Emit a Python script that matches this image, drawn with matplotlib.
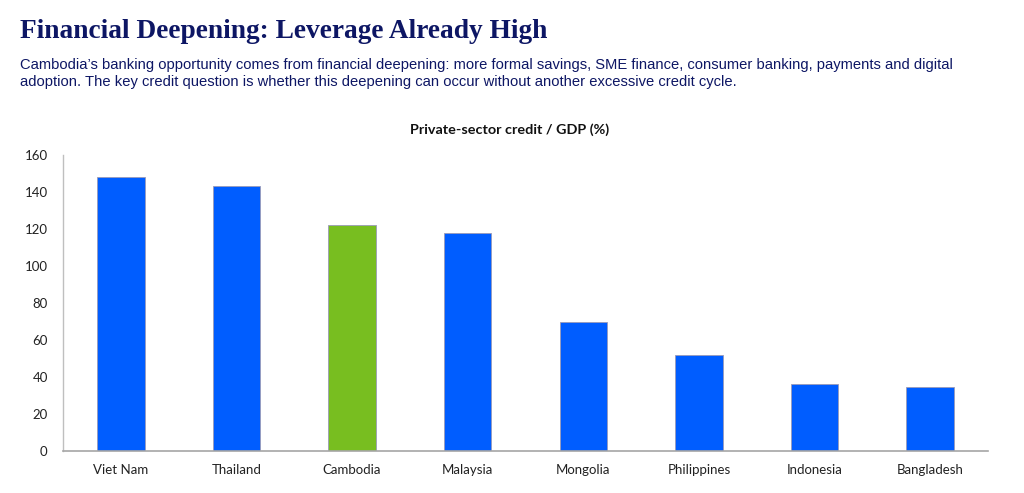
import matplotlib
matplotlib.use("Agg")
import matplotlib.pyplot as plt

countries = ["Viet Nam", "Thailand", "Cambodia", "Malaysia", "Mongolia",
             "Philippines", "Indonesia", "Bangladesh"]
credit_gdp = [148, 143, 122, 118, 70, 52, 36, 34.5]
highlight = "Cambodia"
yticks = [0, 20, 40, 60, 80, 100, 120, 140, 160]

blue = "#005DFF"
green = "#78BE20"
navy = "#0D1664"

fig = plt.figure(figsize=(10.24, 4.93), dpi=100)
ax = fig.add_axes([63/1024, 1 - 451/493, 925/1024, 296/493])

colors = [green if c == highlight else blue for c in countries]
x = range(len(countries))
ax.bar(x, credit_gdp, width=0.41, color=colors, edgecolor="#9a9ab8", linewidth=0.6)
ax.set_xlim(-0.5, len(countries) - 0.5)
ax.set_ylim(0, 160)
ax.set_yticks(yticks)
ax.set_xticks(list(x))
ax.set_xticklabels(countries, fontsize=9.5, family="Lato", color="#222222")
ax.set_yticklabels([str(v) for v in yticks], fontsize=9.5, family="Lato", color="#222222")
ax.tick_params(axis="both", length=0, pad=9)
ax.tick_params(axis="y", pad=11)
for s in ["top", "right"]:
    ax.spines[s].set_visible(False)
ax.spines["left"].set_color("#bfbfbf")
ax.spines["bottom"].set_color("#a6a6a6")
ax.spines["left"].set_linewidth(1.0)
ax.spines["bottom"].set_linewidth(1.2)

fig.text(20/1024, 1 - 31/493, "Financial Deepening: Leverage Already High",
         fontsize=19.7, fontweight="bold", family="Liberation Serif", color=navy, va="center")
fig.text(20/1024, 1 - 65/493,
         "Cambodia\u2019s banking opportunity comes from financial deepening: more formal savings, SME finance, consumer banking, payments and digital",
         fontsize=10.6, family="Liberation Sans", color=navy, va="center")
fig.text(20/1024, 1 - 82/493,
         "adoption. The key credit question is whether this deepening can occur without another excessive credit cycle.",
         fontsize=10.6, family="Liberation Sans", color=navy, va="center")
fig.text(510/1024, 1 - 130/493, "Private-sector credit / GDP (%)",
         fontsize=10.4, fontweight="bold", family="Lato", color="#111111", ha="center", va="center")

fig.savefig("out.png", dpi=100)
